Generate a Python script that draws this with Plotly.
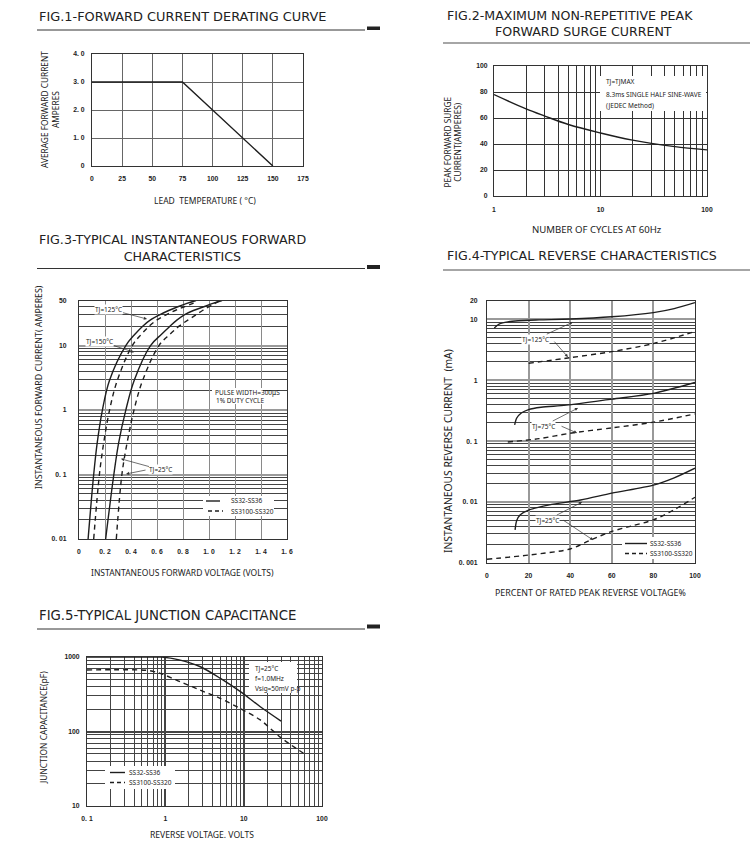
import numpy as np
import plotly.graph_objects as go

W, H = 750, 850

# ---------------- data ----------------
# Fig.1 derating
fig1_temp = [0, 75, 150]
fig1_current = [3.0, 3.0, 0.0]
fig1_xticks = [0, 25, 50, 75, 100, 125, 150, 175]
fig1_yticks = [0, 1, 2, 3, 4]
fig1_yticktext = ["0", "1. 0", "2. 0", "3. 0", "4. 0"]

# Fig.2 surge current
fig2_cycles = [1, 2, 3, 5, 10, 20, 30, 50, 100]
fig2_surge = [78, 67, 61.5, 55, 48.5, 43, 40.5, 38, 35.5]
fig2_xticks = [1, 10, 100]
fig2_xminor = [2, 3, 4, 5, 6, 7, 8, 9, 20, 30, 40, 50, 60, 70, 80, 90]
fig2_yticks = [0, 20, 40, 60, 80, 100]

# Fig.3 forward characteristics (current in A, voltage in V)
fig3_i_hot_solid = [0.01, 0.1, 0.31, 1, 2.9, 10, 15, 20, 25, 30, 35, 40, 45, 50]
fig3_v_hot_solid = [0.07, 0.113, 0.14, 0.18, 0.235, 0.36, 0.43, 0.49, 0.55, 0.62, 0.69, 0.76, 0.83, 0.90]
fig3_i_hot_dash = [0.01, 0.1, 0.31, 1, 2.9, 10, 15, 20, 25, 30, 35, 40, 47]
fig3_v_hot_dash = [0.113, 0.157, 0.19, 0.235, 0.295, 0.41, 0.48, 0.54, 0.60, 0.67, 0.74, 0.81, 0.90]
fig3_i_25_solid = [0.01, 0.1, 0.31, 1, 2.9, 10, 15, 20, 25, 30, 35, 40, 45, 50]
fig3_v_25_solid = [0.205, 0.268, 0.305, 0.36, 0.425, 0.55, 0.635, 0.70, 0.755, 0.81, 0.88, 0.96, 1.03, 1.10]
fig3_i_25_dash = [0.01, 0.1, 0.31, 1, 2.9, 10, 15, 20, 25, 30, 35, 40, 45, 48]
fig3_v_25_dash = [0.287, 0.33, 0.37, 0.423, 0.49, 0.615, 0.70, 0.77, 0.84, 0.90, 0.95, 1.0, 1.045, 1.07]
fig3_xticks = [0, 0.2, 0.4, 0.6, 0.8, 1.0, 1.2, 1.4, 1.6]
fig3_xticktext = ["0", "0. 2", "0. 4", "0. 6", "0. 8", "1. 0", "1. 2", "1. 4", "1. 6"]
fig3_yticks = [0.01, 0.1, 1, 10, 50]
fig3_yticktext = ["0. 01", "0. 1", "1", "10", "50"]

# Fig.4 reverse characteristics (percent, mA)
fig4_x_125_solid = [3.5, 6, 10, 15, 25, 40, 60, 80, 90, 100]
fig4_y_125_solid = [7.2, 8.4, 9.1, 9.5, 9.8, 10.1, 11.0, 12.9, 15.0, 18.8]
fig4_x_125_dash = [20, 40, 60, 80, 100]
fig4_y_125_dash = [1.9, 2.35, 2.95, 4.0, 6.3]
fig4_x_75_solid = [13.3, 14.3, 16.5, 20, 26, 38, 60, 80, 100]
fig4_y_75_solid = [0.185, 0.24, 0.29, 0.33, 0.36, 0.39, 0.49, 0.61, 0.92]
fig4_x_75_dash = [10, 25, 40, 60, 80, 100]
fig4_y_75_dash = [0.097, 0.11, 0.135, 0.165, 0.205, 0.28]
fig4_x_25_solid = [13.5, 14.3, 16, 20, 30, 45, 60, 80, 90, 100]
fig4_y_25_solid = [0.0035, 0.005, 0.0062, 0.0074, 0.009, 0.0108, 0.014, 0.019, 0.025, 0.036]
fig4_x_25_dash = [0, 20, 40, 50, 60, 70, 80, 90, 100]
fig4_y_25_dash = [0.00115, 0.00135, 0.0017, 0.0024, 0.0033, 0.0041, 0.0051, 0.0075, 0.012]
fig4_xticks = [0, 20, 40, 60, 80, 100]
fig4_yticks = [0.001, 0.01, 0.1, 1, 10, 20]
fig4_yticktext = ["0. 001", "0. 01", "0. 1", "1", "10", "20"]

# Fig.5 junction capacitance (V, pF)
fig5_v_solid = [0.1, 0.5, 0.9, 1.5, 2.8, 5, 9, 16.3, 30]
fig5_c_solid = [1000, 1000, 995, 915, 740, 520, 345, 215, 138]
fig5_v_dash = [0.1, 0.6, 0.86, 1.54, 2.77, 5, 9, 16.3, 29.3, 58]
fig5_c_dash = [670, 660, 604, 466, 360, 279, 204, 143, 84, 51]
fig5_xticks = [0.1, 1, 10, 100]
fig5_xticktext = ["0. 1", "1", "10", "100"]
fig5_yticks = [10, 100, 1000]


def minor_decades(lo_exp, hi_exp):
    """Unlabelled grid positions 2..9 x 10^e inside [10^lo, 10^hi]."""
    return [round(m * 10 ** e, 6) for e in range(lo_exp, hi_exp) for m in range(2, 10)]


fig3_yminor = minor_decades(-2, 1) + [20, 30, 40]
fig4_yminor = minor_decades(-3, 1)
fig5_xminor = minor_decades(-1, 2)
fig5_yminor = minor_decades(1, 3)

# ---------------- layout helpers ----------------
def xd(a, b):
    return [a / W, b / W]


def yd(top, bottom):
    return [1 - bottom / H, 1 - top / H]


def px(x):
    return x / W


def py(y):
    return 1 - y / H


INK = "#1e1e1e"
TICKFONT = dict(family="Liberation Sans", size=6.8, color="#222", weight="bold")
TXT = "Noto Sans"
TITLEFONT = "DejaVu Sans"

fig = go.Figure()

LINE = dict(color=INK, width=1.4)
DASH = dict(color=INK, width=1.4, dash="5px,4px")

# Fig 1
fig.add_trace(go.Scatter(x=fig1_temp, y=fig1_current, mode="lines", line=LINE,
                         xaxis="x", yaxis="y", hoverinfo="skip", showlegend=False))
# Fig 2
fig.add_trace(go.Scatter(x=fig2_cycles, y=fig2_surge, mode="lines",
                         line=dict(color=INK, width=1.4, shape="spline"),
                         xaxis="x2", yaxis="y2", hoverinfo="skip", showlegend=False))
# Fig 3
for v, i, st in [(fig3_v_hot_solid, fig3_i_hot_solid, LINE),
                 (fig3_v_hot_dash, fig3_i_hot_dash, DASH),
                 (fig3_v_25_solid, fig3_i_25_solid, LINE),
                 (fig3_v_25_dash, fig3_i_25_dash, DASH)]:
    fig.add_trace(go.Scatter(x=v, y=i, mode="lines",
                             line=dict(st, shape="spline", smoothing=1.0),
                             xaxis="x3", yaxis="y3", hoverinfo="skip", showlegend=False))
# Fig 4
for xs, ys, st in [(fig4_x_125_solid, fig4_y_125_solid, LINE),
                   (fig4_x_125_dash, fig4_y_125_dash, DASH),
                   (fig4_x_75_solid, fig4_y_75_solid, LINE),
                   (fig4_x_75_dash, fig4_y_75_dash, DASH),
                   (fig4_x_25_solid, fig4_y_25_solid, LINE),
                   (fig4_x_25_dash, fig4_y_25_dash, DASH)]:
    fig.add_trace(go.Scatter(x=xs, y=ys, mode="lines",
                             line=dict(st, shape="spline", smoothing=0.8),
                             xaxis="x4", yaxis="y4", hoverinfo="skip", showlegend=False))
# Fig 5
fig.add_trace(go.Scatter(x=fig5_v_solid, y=fig5_c_solid, mode="lines",
                         line=dict(LINE, shape="spline", smoothing=0.8),
                         xaxis="x5", yaxis="y5", hoverinfo="skip", showlegend=False))
fig.add_trace(go.Scatter(x=fig5_v_dash, y=fig5_c_dash, mode="lines",
                         line=dict(DASH, shape="spline", smoothing=0.8),
                         xaxis="x5", yaxis="y5", hoverinfo="skip", showlegend=False))


def axis(domain, anchor, rng, tickvals, ticktext, gridcolor="#555", gridwidth=1,
         typ="linear", standoff=3, minor_vals=None, minor_color="#444", minor_width=1):
    d = dict(domain=domain, anchor=anchor, range=rng, type=typ, automargin=False,
             tickmode="array", tickvals=tickvals, ticktext=ticktext,
             showgrid=True, gridcolor=gridcolor, gridwidth=gridwidth,
             zeroline=False, showline=True, linecolor="#333", linewidth=1,
             mirror=True, ticks="", tickfont=TICKFONT,
             ticklabelstandoff=standoff, fixedrange=True)
    if minor_vals:
        d["minor"] = dict(tickmode="array", tickvals=minor_vals, showgrid=True,
                          gridcolor=minor_color, gridwidth=minor_width, ticks="")
    return d


layout_axes = dict(
    xaxis=axis(xd(92, 303), "y", [0, 175], fig1_xticks, [str(t) for t in fig1_xticks],
               gridcolor="#666", standoff=6),
    yaxis=axis(yd(54, 166), "x", [0, 4], fig1_yticks, fig1_yticktext, gridcolor="#666",
               standoff=5),
    xaxis2=axis(xd(494, 707), "y2", [0, 2], fig2_xticks, [str(t) for t in fig2_xticks],
                gridcolor="#333", typ="log", standoff=7, minor_vals=fig2_xminor,
                minor_color="#333"),
    yaxis2=axis(yd(66, 196), "x2", [0, 100], fig2_yticks, [str(t) for t in fig2_yticks],
                gridcolor="#333", standoff=4),
    xaxis3=axis(xd(79, 287), "y3", [0, 1.6], fig3_xticks, fig3_xticktext,
                gridcolor="#8a8a8a", gridwidth=1.3, standoff=6),
    yaxis3=axis(yd(300.5, 539), "x3", [-2, np.log10(50)], fig3_yticks, fig3_yticktext,
                gridcolor="#9a9a9a", gridwidth=2, typ="log", standoff=10,
                minor_vals=fig3_yminor, minor_color="#444"),
    xaxis4=axis(xd(487, 695), "y4", [0, 100], fig4_xticks, [str(t) for t in fig4_xticks],
                gridcolor="#999", gridwidth=2, standoff=6),
    yaxis4=axis(yd(301, 563), "x4", [-3, np.log10(20)], fig4_yticks, fig4_yticktext,
                gridcolor="#9a9a9a", gridwidth=2, typ="log", standoff=7,
                minor_vals=fig4_yminor, minor_color="#444"),
    xaxis5=axis(xd(87, 322), "y5", [-1, 2], fig5_xticks, fig5_xticktext,
                gridcolor="#444", gridwidth=1.5, typ="log", standoff=6,
                minor_vals=fig5_xminor, minor_color="#444"),
    yaxis5=axis(yd(657, 806), "x5", [1, 3], fig5_yticks, [str(t) for t in fig5_yticks],
                gridcolor="#444", gridwidth=1.5, typ="log", standoff=5,
                minor_vals=fig5_yminor, minor_color="#444"),
)

shapes = []
annotations = []


def text(x, y, s, size=7.5, xanchor="center", angle=0, family=TXT, color="#222", bg=None,
         pad=1, yanchor="middle", align="center"):
    a = dict(x=px(x), y=py(y), xref="paper", yref="paper", text=s, showarrow=False,
             xanchor=xanchor, yanchor=yanchor, textangle=angle, align=align,
             font=dict(family=family, size=size, color=color), borderpad=pad)
    if bg:
        a["bgcolor"] = bg
    annotations.append(a)


def hline(x0, x1, y, color="#333", width=1, dash=None):
    ln = dict(color=color, width=width)
    if dash:
        ln["dash"] = dash
    shapes.append(dict(type="line", xref="paper", yref="paper", x0=px(x0), x1=px(x1),
                       y0=py(y), y1=py(y), line=ln, layer="above"))


def rect(x0, y0, x1, y1, fill="white"):
    shapes.append(dict(type="rect", xref="paper", yref="paper", x0=px(x0), x1=px(x1),
                       y0=py(y1), y1=py(y0), fillcolor=fill, line=dict(width=0),
                       layer="above"))


NB = "&nbsp;"
# Titles & rules
TS = 12.9
text(37, 16.5, "FIG.1-FORWARD CURRENT DERATING CURVE", TS, "left", family=TITLEFONT)
hline(37, 365, 30, "#333", 1)
rect(367, 26.5, 380, 30, "#222")
text(445, 23, "FIG.2-MAXIMUM NON-REPETITIVE PEAK<br>" + NB * 12 + "FORWARD SURGE CURRENT",
     TS - 0.3, "left", family=TITLEFONT, align="left")
hline(443, 750, 43, "#888", 1.5)
text(37, 248, "FIG.3-TYPICAL INSTANTANEOUS FORWARD<br>" + NB * 21 + "CHARACTERISTICS",
     TS - 0.2, "left", family=TITLEFONT, align="left")
hline(37, 365, 268.5, "#333", 1)
rect(367, 265, 380, 269, "#222")
text(445, 255, "FIG.4-TYPICAL REVERSE CHARACTERISTICS", TS - 0.3, "left", family=TITLEFONT)
hline(443, 750, 270, "#888", 1.5)
text(37, 615, "FIG.5-TYPICAL JUNCTION CAPACITANCE", TS + 0.4, "left", family=TITLEFONT)
hline(37, 365, 629, "#333", 1)
rect(367, 624.5, 380, 628.5, "#222")

# Axis titles
text(50, 110, "AVERAGE FORWARD CURRENT<br>AMPERES", 8.3, angle=-90)
text(205, 200, "LEAD  TEMPERATURE ( °C)", 8.5)
text(452.5, 142, "PEAK FORWARD SURGE<br>CURRENT(AMPERES)", 8.3, angle=-90)
text(597, 229, "NUMBER OF CYCLES AT 60Hz", 9.6)
text(39, 387, "INSTANTANEOUS FORWARD CURRENT( AMPERES)", 8.8, angle=-90)
text(182, 572, "INSTANTANEOUS FORWARD VOLTAGE (VOLTS)", 8.5)
text(448, 451, "INSTANTANEOUS REVERSE CURRENT  (mA)", 10.3, angle=-90)
text(590, 592, "PERCENT OF RATED PEAK REVERSE VOLTAGE%", 8.9)
text(43, 728, "JUNCTION CAPACITANCE(pF)", 8.4, angle=-90)
text(202, 835, "REVERSE VOLTAGE. VOLTS", 8.6)

NS = 6.5
# Fig2 note
rect(600, 76, 706, 111)
text(604, 82, "TJ=TJMAX", NS, "left")
text(604, 94, "8.3ms SINGLE HALF SINE-WAVE", NS, "left")
text(604, 105, "(JEDEC Method)", NS, "left")

# Fig3 note + legend
rect(212, 388, 263, 404)
text(213, 392, "PULSE WIDTH=300μS", NS, "left")
text(214, 401, "1% DUTY CYCLE", NS, "left")
rect(203, 496, 274, 516)
hline(206, 220, 501, INK, 1.4)
hline(208, 223, 511, INK, 1.4, "4px,3px")
text(229, 501, "SS32-SS36", NS, "left")
text(229, 511, "SS3100-SS320", NS, "left")

# Fig4 legend
rect(622, 537, 695, 559)
hline(625, 647, 543.5, INK, 1.4)
hline(625, 647, 553.5, INK, 1.4, "4px,3px")
text(648, 543.5, "SS32-SS36", NS, "left")
text(648, 553.5, "SS3100-SS320", NS, "left")

# Fig5 note + legend
rect(249, 662, 297, 693)
text(253, 668, "TJ=25°C", NS, "left")
text(253, 678, "f=1.0MHz", NS, "left")
text(253, 688, "Vsig=50mV p-p", NS, "left")
rect(105, 766, 175, 789)
hline(110, 125, 772.5, INK, 1.4)
hline(110, 125, 782.5, INK, 1.4, "4px,3px")
text(127, 772.5, "SS32-SS36", NS, "left")
text(127, 782.5, "SS3100-SS320", NS, "left")


# Arrow annotations (tip in data coordinates, offset of tail in pixels)
def arrow(xa, ya, x, y, axp, ayp, label="", log_y=False, log_x=False):
    xx = np.log10(x) if log_x else x
    yy = np.log10(y) if log_y else y
    a = dict(x=xx, y=yy, xref=xa, yref=ya, ax=axp, ay=ayp, text=label,
             showarrow=True, arrowhead=2, arrowsize=0.9, arrowwidth=0.7,
             arrowcolor="#333", standoff=0, startstandoff=0,
             font=dict(family=TXT, size=NS, color="#222"), borderpad=0)
    if label:
        a["bgcolor"] = "white"
    annotations.append(a)


# Fig3 labels
arrow("x3", "y3", 0.523, 25.8, -38, -10, "TJ=125°C", log_y=True)
arrow("x3", "y3", 0.423, 7.9, -34, -11, "TJ=150°C", log_y=True)
arrow("x3", "y3", 0.323, 0.175, 40, 11, "TJ=25°C", log_y=True)
arrow("x3", "y3", 0.362, 0.102, 20, -4, "", log_y=True)

# Fig4 labels
arrow("x4", "y4", 41.3, 9.0, -37, 17, "TJ=125°C", log_y=True)
arrow("x4", "y4", 38.9, 2.4, -14, -16, "", log_y=True)
arrow("x4", "y4", 43.75, 0.35, -35, 18, "TJ=75°C", log_y=True)
arrow("x4", "y4", 43.3, 0.136, -16, -7, "", log_y=True)
arrow("x4", "y4", 45.7, 0.0100, -35, 18, "TJ=25°C", log_y=True)
arrow("x4", "y4", 51.0, 0.00238, -30, -20, "", log_y=True)

fig.update_layout(
    template="none",
    width=W, height=H, autosize=False,
    margin=dict(l=0, r=0, t=0, b=0, autoexpand=False),
    paper_bgcolor="white", plot_bgcolor="white",
    showlegend=False,
    shapes=shapes, annotations=annotations,
    **layout_axes,
)

fig.write_html("out.html", config={"displayModeBar": False},
               post_script="document.body.style.margin='0';")
